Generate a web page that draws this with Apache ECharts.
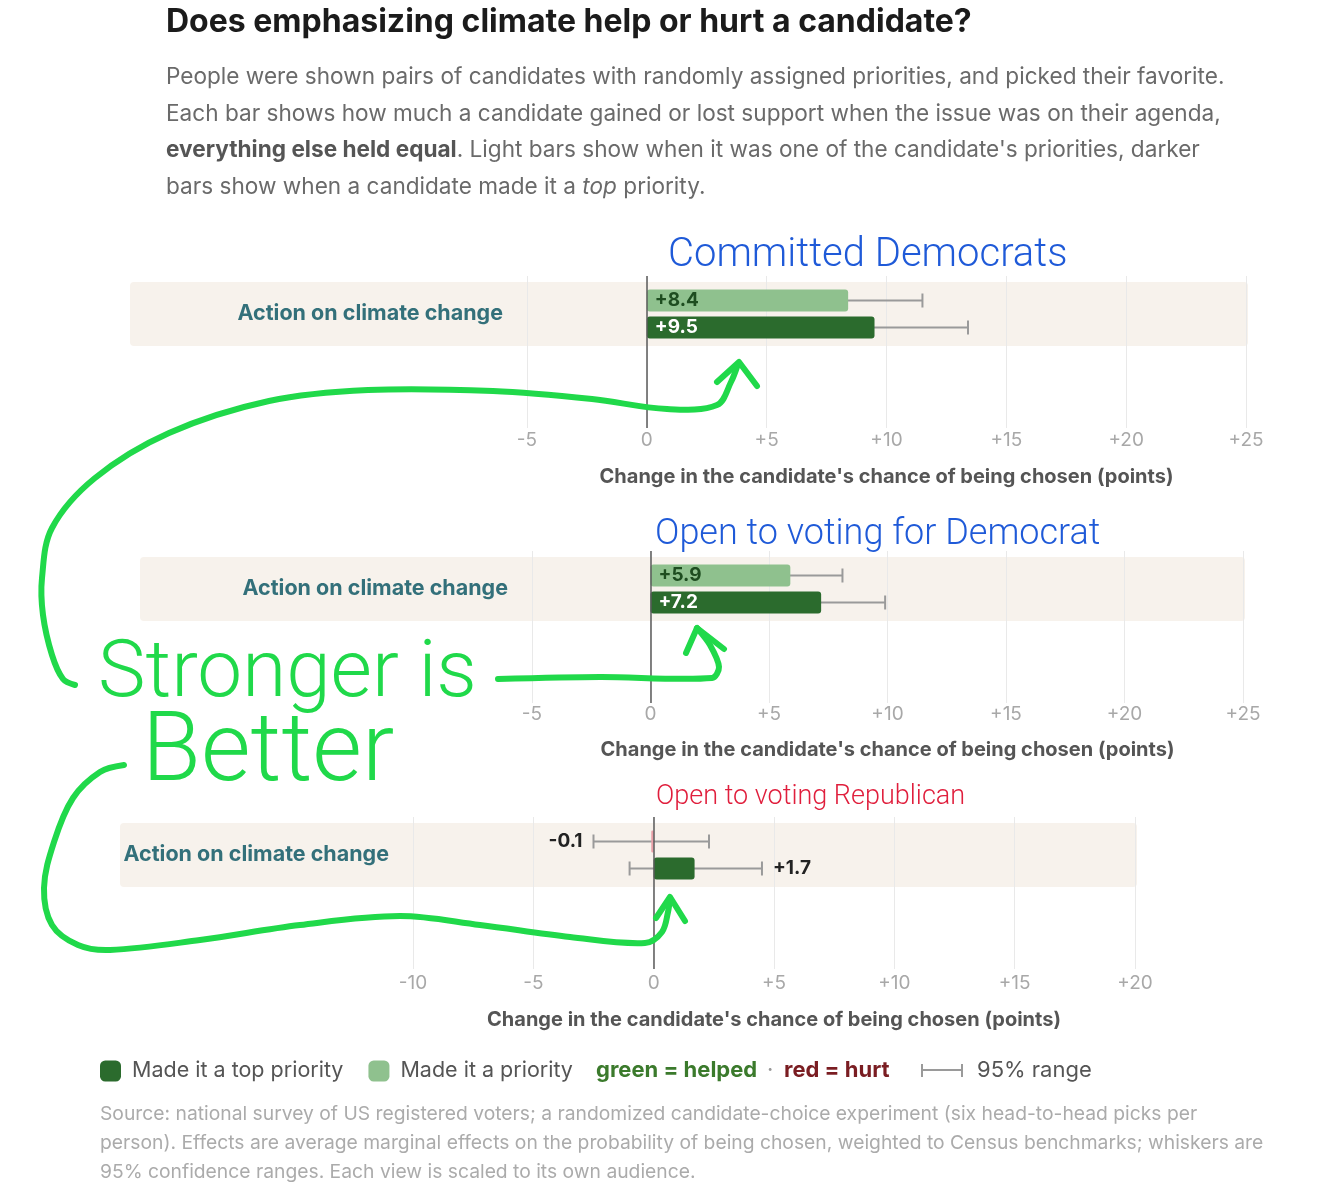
<!DOCTYPE html>
<html lang="en">
<head>
<meta charset="UTF-8">
<title>Does emphasizing climate help or hurt a candidate?</title>
<style>
  html, body { margin: 0; padding: 0; background: #fff; }
  #main { width: 1323px; height: 1188px; }
</style>
</head>
<body>
<div id="main"></div>
<script src="https://cdn.jsdelivr.net/npm/echarts@6/dist/echarts.min.js"></script>
<script>
// values (points)
var category = 'Action on climate change';
var audiences = ['Committed Democrats', 'Open to voting for Democrat', 'Open to voting Republican'];
var priorityValues = [8.4, 5.9, -0.1];
var priorityLow = [5.3, 3.7, -2.5];
var priorityHigh = [11.5, 8.1, 2.3];
var topValues = [9.5, 7.2, 1.7];
var topLow = [5.6, 4.5, -1.0];
var topHigh = [13.4, 9.9, 4.5];
var axisMin = [-5, -5, -10];
var axisMax = [25, 25, 20];
var axisTitle = "Change in the candidate's chance of being chosen (points)";

// page layout per panel
var panels = [
    { left: 527, right: 77, bandTop: 282, bandLeft: 130, bandRight: 1248, labelY: 441, nameY: 477, noteX: 668, noteY: 256, noteSize: 40, noteColor: '#1f5ad8' },
    { left: 532, right: 80, bandTop: 557, bandLeft: 140, bandRight: 1245, labelY: 715, nameY: 750, noteX: 655, noteY: 535, noteSize: 36, noteColor: '#1f5ad8' },
    { left: 413, right: 188, bandTop: 823, bandLeft: 120, bandRight: 1137, labelY: 984, nameY: 1020, noteX: 656, noteY: 797, noteSize: 27, noteColor: '#e01e3c' }
];

var FONT = 'Inter, "Noto Sans", sans-serif';
var HAND = 'Roboto, "Noto Sans", sans-serif';
var GREEN = '#20d94a';
var lightGreen = '#8fc18e', darkGreen = '#2b6b2d', lightRed = '#eaa0a8', darkRed = '#a3262c';

function signed(v) {
    return (v > 0 ? '+' : '') + v.toFixed(1);
}

var grids = [], xAxes = [], yAxes = [], series = [], graphics = [];

panels.forEach(function (p, i) {
    var top = p.bandTop - 6, height = 152, bottom = top + height;
    grids.push({ left: p.left, right: p.right, top: top, height: height });

    xAxes.push({
        type: 'value', gridIndex: i, min: axisMin[i], max: axisMax[i], interval: 5,
        axisLine: { show: false }, axisTick: { show: false },
        splitLine: { lineStyle: { color: '#e9e9e9', width: 1 } },
        axisLabel: {
            margin: p.labelY - 10 - bottom, color: '#a8a8a8', fontSize: 19, fontFamily: FONT,
            formatter: function (v) { return v > 0 ? '+' + v : String(v); }
        },
        name: axisTitle, nameLocation: 'middle', nameGap: p.nameY - 10 - bottom,
        nameTextStyle: { color: '#555', fontSize: 20, fontWeight: 'bold', fontFamily: FONT }
    });

    yAxes.push({
        type: 'category', gridIndex: i, inverse: true, data: [category, ''],
        axisLine: { show: false }, axisTick: { show: false }, splitLine: { show: false },
        axisLabel: { margin: 24, color: '#33707a', fontSize: 21.5, fontWeight: 'bold', fontFamily: FONT }
    });

    var rows = [
        { name: 'Made it a priority', value: priorityValues[i], low: priorityLow[i], high: priorityHigh[i],
          color: priorityValues[i] < 0 ? lightRed : lightGreen, text: '#1e4d20' },
        { name: 'Made it a top priority', value: topValues[i], low: topLow[i], high: topHigh[i],
          color: topValues[i] < 0 ? darkRed : darkGreen, text: '#fff' }
    ];

    // whiskers sit under the bars
    series.push({
        type: 'custom', xAxisIndex: i, yAxisIndex: i, z: 1, silent: true,
        data: rows.map(function (r, k) { return [r.low, r.high, r.value, k]; }),
        renderItem: function (params, api) {
            var low = api.value(0), high = api.value(1), v = api.value(2), k = api.value(3);
            var a = api.coord([low, 0]), b = api.coord([high, 0]);
            var y = a[1] + (k === 0 ? -13.5 : 13.5);
            var st = { stroke: '#9a9a9a', lineWidth: 2 };
            var kids = [
                { type: 'line', shape: { x1: a[0], y1: y, x2: b[0], y2: y }, style: st },
                { type: 'line', shape: { x1: a[0], y1: y - 7, x2: a[0], y2: y + 7 }, style: st },
                { type: 'line', shape: { x1: b[0], y1: y - 7, x2: b[0], y2: y + 7 }, style: st }
            ];
            if (Math.abs(v) < 3) {
                kids.push({
                    type: 'text', z2: 10,
                    style: {
                        text: signed(v), x: v < 0 ? a[0] - 11 : b[0] + 11, y: y,
                        align: v < 0 ? 'right' : 'left', verticalAlign: 'middle',
                        fill: '#222', fontSize: 19, fontWeight: 'bold', fontFamily: FONT
                    }
                });
            }
            return { type: 'group', children: kids };
        }
    });

    rows.forEach(function (r, k) {
        var s = {
            type: 'bar', name: r.name, xAxisIndex: i, yAxisIndex: i, z: 3,
            barWidth: 22, barGap: '23%',
            itemStyle: { color: k === 0 ? lightGreen : darkGreen, borderRadius: 3 },
            data: [{
                value: r.value,
                itemStyle: { color: r.color },
                label: {
                    show: Math.abs(r.value) >= 3, position: 'insideLeft', distance: 8,
                    formatter: signed(r.value), color: r.text,
                    fontSize: 19, fontWeight: 'bold', fontFamily: FONT
                }
            }]
        };
        if (k === 0) {
            s.markLine = {
                silent: true, symbol: 'none', z: 5,
                label: { show: false },
                lineStyle: { color: '#5a5a5a', width: 1.5, type: 'solid' },
                data: [{ xAxis: 0 }]
            };
        }
        series.push(s);
    });

    // beige row band behind the label and bars
    graphics.push({
        type: 'rect', z: -10, silent: true,
        shape: { x: p.bandLeft, y: p.bandTop, width: p.bandRight - p.bandLeft, height: 64, r: 4 },
        style: { fill: '#f7f2ec' }
    });
    // handwritten audience note
    graphics.push({
        type: 'text', z: 20, x: p.noteX, y: p.noteY,
        style: { text: audiences[i], fill: p.noteColor, fontSize: p.noteSize, fontWeight: 300,
                 fontFamily: HAND, verticalAlign: 'middle' }
    });
});

// header
graphics.push({
    type: 'text', x: 166, y: 6,
    style: { text: 'Does emphasizing climate help or hurt a candidate?', fill: '#1b1b1b',
             fontSize: 32, fontWeight: 'bold', fontFamily: FONT }
});
graphics.push({
    type: 'text', x: 166, y: 59,
    style: {
        text: 'People were shown pairs of candidates with randomly assigned priorities, and picked their favorite.\n' +
              'Each bar shows how much a candidate gained or lost support when the issue was on their agenda,\n' +
              '{b|everything else held equal}. Light bars show when it was one of the candidate\'s priorities, darker\n' +
              'bars show when a candidate made it a {i|top} priority.',
        fill: '#6a6a6a', fontSize: 22.6, lineHeight: 36.5, fontFamily: FONT,
        rich: {
            b: { fontSize: 22.6, lineHeight: 36.5, fontFamily: FONT, fontWeight: 'bold', fill: '#555' },
            i: { fontSize: 22.6, lineHeight: 36.5, fontFamily: FONT, fontStyle: 'italic', fill: '#6a6a6a' }
        }
    }
});

// hand-drawn green arrows and note
var pen = { stroke: GREEN, lineWidth: 6, fill: null, lineCap: 'round', lineJoin: 'round' };
function stroke(points, smooth) {
    graphics.push({ type: 'polyline', z: 30, silent: true, shape: { points: points, smooth: smooth || 0 }, style: pen });
}
stroke([[75, 685], [63, 679], [52, 655], [43, 615], [42, 578], [52, 528], [95, 478], [169, 433], [269, 401],
        [368, 390], [493, 391], [592, 399], [667, 409], [717, 405], [731, 382], [738, 364]], 0.35);
stroke([[717, 382], [739, 362], [757, 386]]);
stroke([[498, 679], [600, 677], [712, 678], [719, 667], [710, 645], [697, 628]], 0.3);
stroke([[686, 653], [697, 628], [724, 649]]);
stroke([[124, 765], [100, 772], [73, 798], [54, 842], [44, 888], [52, 925], [78, 945], [110, 950], [200, 940],
        [300, 925], [400, 916], [480, 925], [570, 937], [645, 943], [662, 932], [668, 912], [670, 898]], 0.35);
stroke([[656, 918], [670, 897], [685, 921]]);
graphics.push({
    type: 'text', z: 30, x: 98, y: 676,
    style: { text: 'Stronger is', fill: GREEN, fontSize: 80, fontWeight: 300, fontFamily: HAND, verticalAlign: 'middle' }
});
graphics.push({
    type: 'text', z: 30, x: 142, y: 756,
    style: { text: 'Better', fill: GREEN, fontSize: 96, fontWeight: 300, fontFamily: HAND, verticalAlign: 'middle' }
});

// legend extras
var keyStyle = { fontSize: 22, fontFamily: FONT, verticalAlign: 'middle' };
graphics.push({ type: 'text', x: 596, y: 1070, style: Object.assign({ text: 'green = helped', fill: '#3b7a2c', fontWeight: 'bold' }, keyStyle) });
graphics.push({ type: 'text', x: 767, y: 1070, style: Object.assign({ text: '·', fill: '#999' }, keyStyle) });
graphics.push({ type: 'text', x: 784, y: 1070, style: Object.assign({ text: 'red = hurt', fill: '#7a1d22', fontWeight: 'bold' }, keyStyle) });
graphics.push({ type: 'polyline', shape: { points: [[922, 1064], [922, 1077]] }, style: { stroke: '#9a9a9a', lineWidth: 2 } });
graphics.push({ type: 'polyline', shape: { points: [[922, 1070], [962, 1070]] }, style: { stroke: '#9a9a9a', lineWidth: 2 } });
graphics.push({ type: 'polyline', shape: { points: [[962, 1064], [962, 1077]] }, style: { stroke: '#9a9a9a', lineWidth: 2 } });
graphics.push({ type: 'text', x: 977, y: 1070, style: Object.assign({ text: '95% range', fill: '#555' }, keyStyle) });

// source note
graphics.push({
    type: 'text', x: 100, y: 1100,
    style: {
        text: 'Source: national survey of US registered voters; a randomized candidate-choice experiment (six head-to-head picks per\n' +
              'person). Effects are average marginal effects on the probability of being chosen, weighted to Census benchmarks; whiskers are\n' +
              '95% confidence ranges. Each view is scaled to its own audience.',
        fill: '#ababab', fontSize: 19.3, lineHeight: 29, fontFamily: FONT
    }
});

var chart = echarts.init(document.getElementById('main'));
var option = {
    animation: false,
    backgroundColor: '#fff',
    textStyle: { fontFamily: FONT },
    grid: grids,
    xAxis: xAxes,
    yAxis: yAxes,
    legend: {
        data: ['Made it a top priority', 'Made it a priority'],
        left: 100, top: 1060, padding: 0, icon: 'roundRect', itemWidth: 21, itemHeight: 21, itemGap: 25,
        selectedMode: false,
        textStyle: { color: '#555', fontSize: 21.5, fontFamily: FONT, padding: [0, 0, 0, 6] }
    },
    series: series,
    graphic: graphics
};
option && chart.setOption(option);
</script>
</body>
</html>
